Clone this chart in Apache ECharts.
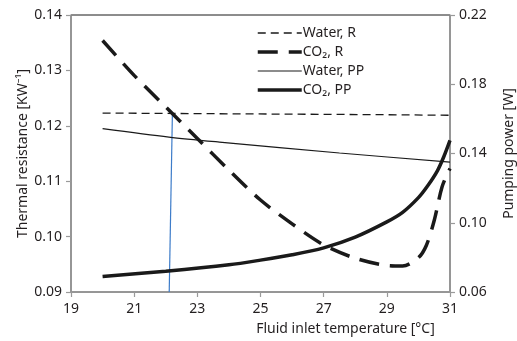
<!DOCTYPE html>
<html>
<head>
<meta charset="utf-8">
<script src="https://cdn.jsdelivr.net/npm/echarts@6/dist/echarts.min.js"></script>
<style>
html,body{margin:0;padding:0;background:#fff;}
#chart{width:517px;height:341px;}
</style>
</head>
<body>
<div id="chart"></div>
<script>
// values
const seriesNames = ['Water, R', 'CO\u2082, R', 'Water, PP', 'CO\u2082, PP'];
const waterR = [[20, 0.1223], [23, 0.1222], [26, 0.1221], [29, 0.1220], [31, 0.1219]];
const co2R = [[20, 0.1354], [21, 0.1291], [22, 0.1234], [23, 0.1177], [24, 0.1120], [25, 0.1066],
    [26, 0.1023], [27, 0.0985], [28, 0.0961], [29, 0.0948], [29.5, 0.0947], [30, 0.0962],
    [30.25, 0.0984], [30.5, 0.1029], [30.75, 0.1090], [31, 0.1123]];
const waterPP = [[20, 0.1544], [22.1, 0.1495], [23.7, 0.1466], [27.5, 0.1403], [31, 0.1350]];
const co2PP = [[20, 0.0690], [22, 0.0720], [24, 0.0757], [25, 0.0784], [26, 0.0815], [27, 0.0855],
    [28, 0.0917], [29, 0.1005], [29.5, 0.1060], [30, 0.1145], [30.3, 0.1215], [30.6, 0.1300],
    [30.8, 0.1380], [31, 0.1476]];
const marker = [[22.11, 0.09], [22.21, 0.1221]];

const colorSets = {
    text: '#231f20',
    axis: '#9a9a9a',
    line: '#1a1a1a',
    marker: '#3d7cc9'
};
const font = 'Noto Sans';

const axisCommon = {
    axisLine: { show: true, lineStyle: { color: colorSets.axis, width: 1.5 } },
    axisTick: { show: true, length: 5, lineStyle: { color: colorSets.axis, width: 1.2 } },
    splitLine: { show: false },
    axisLabel: { color: colorSets.text, fontFamily: font, fontSize: 14 },
    nameMoveOverlap: false,
    nameTextStyle: { color: colorSets.text, fontFamily: font, fontSize: 14 }
};

const chart = echarts.init(document.getElementById('chart'));
chart.setOption({
    animation: false,
    grid: {
        show: true,
        left: 71,
        right: 67,
        top: 15,
        bottom: 49,
        outerBoundsMode: 'none',
        borderColor: colorSets.line,
        borderWidth: 1
    },
    legend: {
        data: seriesNames,
        orient: 'vertical',
        left: 251,
        top: 21,
        itemWidth: 44,
        itemHeight: 14,
        itemGap: 5,
        itemStyle: { opacity: 0 },
        lineStyle: { width: 'inherit', type: 'inherit' },
        textStyle: { color: colorSets.text, fontFamily: font, fontSize: 14, padding: [0, 0, 0, -4] }
    },
    xAxis: Object.assign({}, axisCommon, {
        type: 'value',
        min: 19,
        max: 31,
        interval: 2,
        name: 'Fluid inlet temperature [\u00B0C]',
        nameLocation: 'middle',
        nameGap: 30,
        nameTextStyle: Object.assign({}, axisCommon.nameTextStyle, { padding: [0, 0, 0, 170] }),
        axisLabel: Object.assign({}, axisCommon.axisLabel, { margin: 10 })
    }),
    yAxis: [
        Object.assign({}, axisCommon, {
            type: 'value',
            min: 0.09,
            max: 0.14,
            interval: 0.01,
            name: 'Thermal resistance [KW\u207B\u00B9]',
            nameLocation: 'middle',
            nameGap: 41,
            axisLabel: Object.assign({}, axisCommon.axisLabel, {
                margin: 9,
                formatter: v => v.toFixed(2)
            })
        }),
        Object.assign({}, axisCommon, {
            type: 'value',
            position: 'right',
            min: 0.06,
            max: 0.22,
            interval: 0.04,
            name: 'Pumping power [W]',
            nameLocation: 'middle',
            nameGap: 52,
            nameRotate: 90,
            axisLabel: Object.assign({}, axisCommon.axisLabel, {
                margin: 9,
                formatter: v => v.toFixed(2)
            })
        })
    ],
    series: [
        {
            name: seriesNames[0], type: 'line', yAxisIndex: 0, symbol: 'none',
            data: waterR,
            lineStyle: { color: colorSets.line, width: 1.3, type: [8, 5] },
            itemStyle: { color: colorSets.line }
        },
        {
            name: seriesNames[1], type: 'line', yAxisIndex: 0, symbol: 'none', smooth: 0.3,
            data: co2R,
            lineStyle: { color: colorSets.line, width: 3.5, type: [20, 11] },
            itemStyle: { color: colorSets.line }
        },
        {
            name: seriesNames[2], type: 'line', yAxisIndex: 1, symbol: 'none', smooth: 0.3,
            data: waterPP,
            lineStyle: { color: colorSets.line, width: 1.2 },
            itemStyle: { color: colorSets.line }
        },
        {
            name: seriesNames[3], type: 'line', yAxisIndex: 1, symbol: 'none', smooth: 0.3,
            data: co2PP,
            lineStyle: { color: colorSets.line, width: 3.5 },
            itemStyle: { color: colorSets.line }
        },
        {
            name: 'marker', type: 'line', yAxisIndex: 0, symbol: 'none',
            data: marker,
            lineStyle: { color: colorSets.marker, width: 1.2 },
            z: 1
        }
    ]
});
</script>
</body>
</html>
